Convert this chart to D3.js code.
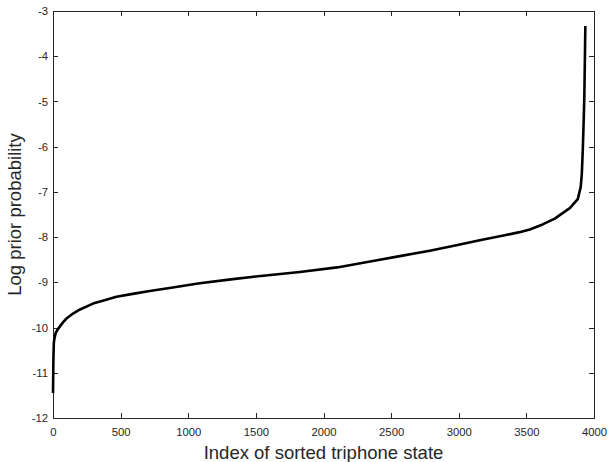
<!DOCTYPE html>
<meta charset="utf-8">
<title>Log prior probability</title>
<style>
body { margin: 0; background: #fff; }
svg { display: block; font-family: "Liberation Sans", Arial, sans-serif; }
.axis path, .axis line { stroke: #262626; fill: none; shape-rendering: crispEdges; }
.axis text { fill: #262626; font-size: 11.3px; }
.label { fill: #262626; font-size: 18.5px; }
</style>
<body>
<script src="https://d3js.org/d3.v7.min.js"></script>
<script>

// sorted state index and log prior probability
var stateIndex = [0, 3, 6, 10, 20, 35, 50, 75, 100, 148, 200, 296, 400, 469, 600, 715, 850,
  1085, 1300, 1500, 1825, 2100, 2416, 2564, 2786, 3000, 3155, 3340, 3450, 3525, 3620, 3710,
  3821, 3880, 3902, 3910, 3917, 3922, 3928, 3932, 3936];
var logPrior = [-11.45, -10.7, -10.35, -10.25, -10.12, -10.04, -9.98, -9.88, -9.8, -9.69, -9.6,
  -9.47, -9.38, -9.32, -9.25, -9.19, -9.13, -9.02, -8.94, -8.87, -8.77, -8.67, -8.5, -8.42,
  -8.3, -8.17, -8.07, -7.96, -7.89, -7.83, -7.72, -7.59, -7.36, -7.16, -6.89, -6.6, -6.08, -5.6,
  -4.97, -4.2, -3.33];

var xTicks = [0, 500, 1000, 1500, 2000, 2500, 3000, 3500, 4000];
var yTicks = [-12, -11, -10, -9, -8, -7, -6, -5, -4, -3];

var margin = {top: 11, right: 14, bottom: 44, left: 53},
    width = 608 - margin.left - margin.right,
    height = 462 - margin.top - margin.bottom;

var x = d3.scaleLinear().domain([0, 4000]).range([0, width]);
var y = d3.scaleLinear().domain([-12, -3]).range([height, 0]);

var svg = d3.select("body").append("svg")
    .attr("width", 608)
    .attr("height", 462)
  .append("g")
    .attr("transform", "translate(" + margin.left + "," + margin.top + ")");

var tick = 5;
var fmt = function(d) { return String(d); };

svg.append("g")
    .attr("class", "axis")
    .attr("transform", "translate(0," + height + ")")
    .call(d3.axisBottom(x).tickValues(xTicks).tickFormat(fmt).tickSizeInner(-tick).tickSizeOuter(0).tickPadding(10));

svg.append("g")
    .attr("class", "axis")
    .call(d3.axisTop(x).tickValues(xTicks).tickSizeInner(-tick).tickSizeOuter(0).tickFormat(""));

svg.append("g")
    .attr("class", "axis")
    .call(d3.axisLeft(y).tickValues(yTicks).tickFormat(fmt).tickSizeInner(-tick).tickSizeOuter(0).tickPadding(5));

svg.append("g")
    .attr("class", "axis")
    .attr("transform", "translate(" + width + ",0)")
    .call(d3.axisRight(y).tickValues(yTicks).tickSizeInner(-tick).tickSizeOuter(0).tickFormat(""));

var line = d3.line()
    .x(function(d, i) { return x(stateIndex[i]); })
    .y(function(d) { return y(d); });

svg.append("path")
    .datum(logPrior)
    .attr("fill", "none")
    .attr("stroke", "#000")
    .attr("stroke-width", 2.6)
    .attr("stroke-linejoin", "round")
    .attr("d", line);

svg.append("text")
    .attr("class", "label")
    .attr("x", width / 2)
    .attr("y", height + 41)
    .style("text-anchor", "middle")
    .text("Index of sorted triphone state");

svg.append("text")
    .attr("class", "label")
    .attr("transform", "rotate(-90)")
    .attr("x", -height / 2)
    .attr("y", -32.5)
    .style("text-anchor", "middle")
    .text("Log prior probability");

</script>
